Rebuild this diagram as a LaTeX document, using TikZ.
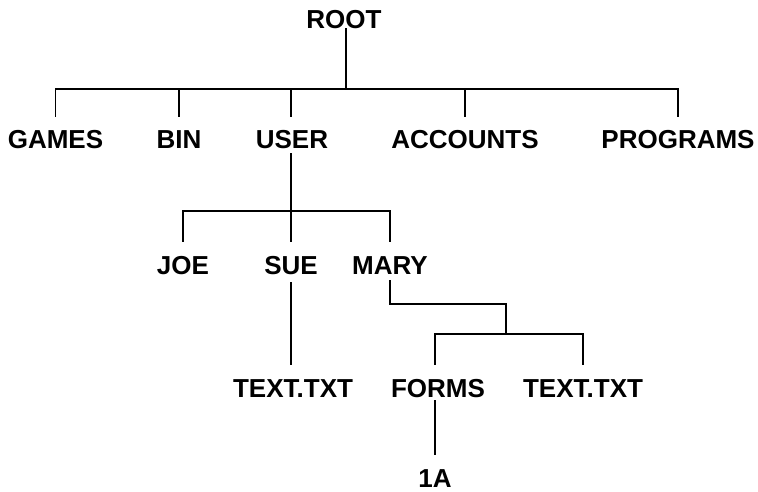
\documentclass[tikz,border=0pt]{standalone}
\usepackage{fontspec}
\setmainfont{Liberation Sans}
\begin{document}
\begin{tikzpicture}[x=1pt,y=-1pt,
  lbl/.style={font=\fontsize{26}{30}\selectfont\bfseries, inner sep=0pt, anchor=base, text height=19pt, text depth=0pt},
  conn/.style={line width=1.8pt, line cap=butt, line join=miter}]
\useasboundingbox (0,0) rectangle (758,491);
% nodes
\node[lbl] (root) at (344,28) {ROOT};
\node[lbl] (games) at (55.5,148) {GAMES};
\node[lbl] (bin) at (179,148) {BIN};
\node[lbl] (user) at (292,148) {USER};
\node[lbl] (accounts) at (465,148) {ACCOUNTS};
\node[lbl] (programs) at (678,148) {PROGRAMS};
\node[lbl] (joe) at (183,274) {JOE};
\node[lbl] (sue) at (291,274) {SUE};
\node[lbl] (mary) at (390,274) {MARY};
\node[lbl] (text1) at (293,397) {TEXT.TXT};
\node[lbl] (forms) at (438,397) {FORMS};
\node[lbl] (text2) at (583,397) {TEXT.TXT};
\node[lbl] (a1) at (435,487) {1A};
% junctions
\coordinate (bar1) at (346,89);
\coordinate (bar2) at (291,211);
\coordinate (m2) at (506,304);
\coordinate (m3) at (506,334);
% level 1
\draw[conn] (root.south -| bar1) -- (bar1);
\draw[conn] ([yshift=12pt]games.north) -- (games.north |- bar1) -- (programs.north |- bar1) -- ([yshift=12pt]programs.north);
\draw[conn] ([yshift=12pt]bin.north) -- (bin.north |- bar1);
\draw[conn] ([yshift=12pt]user.north -| bar2) -- (bar2 |- bar1);
\draw[conn] ([yshift=12pt]accounts.north) -- (accounts.north |- bar1);
% level 2
\draw[conn] ([yshift=-5pt]user.south -| bar2) -- (bar2);
\draw[conn] ([yshift=13pt]joe.north) -- (joe.north |- bar2) -- (mary.north |- bar2) -- ([yshift=13pt]mary.north);
\draw[conn] (bar2) -- ([yshift=13pt]sue.north);
% SUE -> TEXT.TXT
\draw[conn] ([yshift=-8pt]sue.south) -- ([yshift=13pt]text1.north -| sue.south);
% MARY -> split
\draw[conn] ([yshift=-6pt]mary.south) -- (mary.south |- m2) -- (m2) -- (m3);
\draw[conn] ([yshift=13pt]forms.north -| a1.north) -- (a1.north |- m3) -- (text2.north |- m3) -- ([yshift=13pt]text2.north);
% FORMS -> 1A
\draw[conn] ([yshift=-3pt]forms.south -| a1.north) -- ([yshift=13pt]a1.north);
\end{tikzpicture}
\end{document}
